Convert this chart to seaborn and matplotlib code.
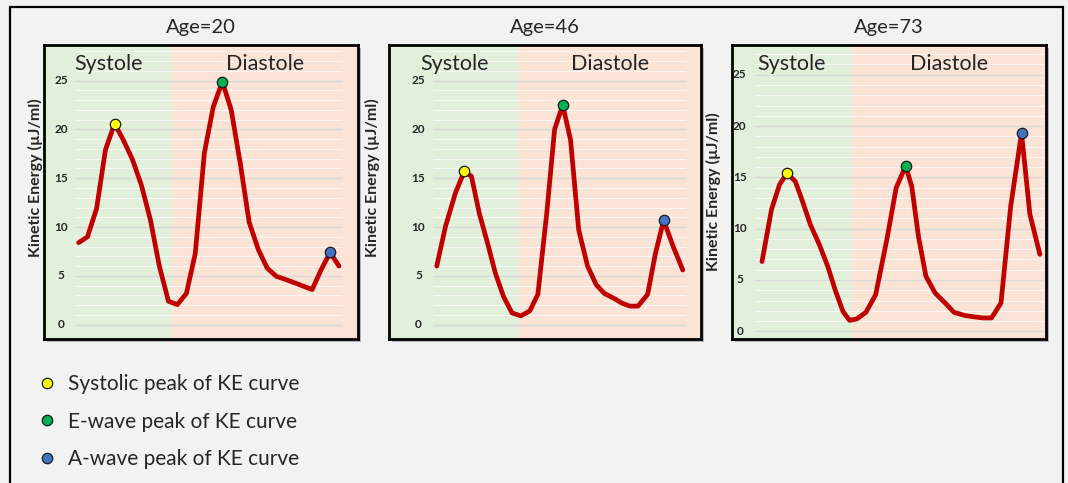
"""
Kinetic energy of LV inflow over one cardiac cycle, three ages.
Saves out.png
"""

import matplotlib.pyplot as plt
import matplotlib.patches as mpatches
from matplotlib.lines import Line2D
import seaborn as sns

sns.set_style("white")
plt.rcParams["font.family"] = ["Lato", "DejaVu Sans"]

# ── Data ──────────────────────────────────────────────────────────────────────
# time as % of the plotted cycle, KE in µJ/ml
t_20 = [0, 3.4, 6.9, 10.3, 13.8, 17.2, 20.7, 24.1, 27.6, 31.0, 34.5, 37.9, 41.4,
        44.8, 48.3, 51.7, 55.2, 58.6, 62.1, 65.5, 69.0, 72.4, 75.9, 79.3, 82.8,
        86.2, 89.7, 93.1, 96.6, 100]
ke_20 = [8.4, 9.0, 11.9, 17.9, 20.6, 18.9, 16.9, 14.3, 10.7, 6.0, 2.4, 2.05, 3.2,
         7.3, 17.6, 22.3, 24.9, 22.0, 16.5, 10.5, 7.7, 5.8, 4.95, 4.65, 4.3,
         3.95, 3.6, 5.6, 7.4, 6.0]

t_46 = [0, 3.6, 7.6, 11.2, 14.1, 17.3, 20.6, 23.8, 27.1, 30.6, 34.2, 37.8, 41.1,
        44.7, 47.9, 51.2, 54.4, 57.7, 61.3, 64.8, 68.1, 72.0, 75.3, 78.5, 81.8,
        85.7, 88.9, 92.2, 96.1, 100]
ke_46 = [6.0, 10.1, 13.5, 15.7, 15.2, 11.4, 8.4, 5.3, 2.9, 1.2, 0.9, 1.4, 3.1,
         11.4, 20.0, 22.5, 18.9, 9.7, 6.0, 4.1, 3.2, 2.7, 2.2, 1.9, 1.9,
         3.1, 7.3, 10.7, 8.0, 5.6]

t_73 = [0, 3.4, 6.3, 9.0, 12.0, 14.4, 17.4, 20.7, 23.7, 26.3, 29.1, 31.5, 34.1,
        37.4, 40.9, 44.9, 48.3, 51.7, 53.9, 56.3, 59.0, 62.3, 65.9, 69.1, 73.1,
        76.6, 79.6, 82.6, 86.0, 89.5, 93.4, 96.4, 100]
ke_73 = [6.8, 11.85, 14.3, 15.4, 14.6, 12.8, 10.4, 8.4, 6.3, 4.06, 1.95, 1.07, 1.2,
         1.85, 3.57, 8.9, 14.0, 16.1, 14.1, 9.25, 5.36, 3.73, 2.76, 1.85, 1.53,
         1.4, 1.3, 1.3, 2.76, 12.2, 19.3, 11.4, 7.5]

# index of systolic, E-wave and A-wave peak in each series
peaks_20 = [4, 16, 28]
peaks_46 = [3, 15, 27]
peaks_73 = [3, 17, 30]

y_ticks = [0, 5, 10, 15, 20, 25]
peak_labels = ["Systolic peak of KE curve", "E-wave peak of KE curve",
               "A-wave peak of KE curve"]

# ── Style ─────────────────────────────────────────────────────────────────────
BG        = "#F2F2F2"
SYS_CLR   = "#E2EFDA"
DIA_CLR   = "#FBE3D6"
LINE_CLR  = "#C00000"
PEAK_CLRS = ["#FFFF00", "#00B050", "#4472C4"]

W, H = 1068, 483


def px_rect(l, t, r, b):
    return [l / W, 1 - b / H, (r - l) / W, (b - t) / H]


panels = [
    dict(age=20, t=t_20, ke=ke_20, peaks=peaks_20, frame=(44, 45, 358, 339),
         xlim=(-13.3, 107.3), ylim=(-1.47, 28.65), sys_end=36.0,
         grid=(-1.5, 101.3), tick_x=-6.7, ylab=(-0.004, 0.548)),
    dict(age=46, t=t_46, ke=ke_46, peaks=peaks_46, frame=(389, 45, 701, 339),
         xlim=(-19.4, 107.4), ylim=(-1.47, 28.65), sys_end=33.6,
         grid=(-1.6, 101.3), tick_x=-7.4, ylab=(-0.029, 0.548)),
    dict(age=73, t=t_73, ke=ke_73, peaks=peaks_73, frame=(732, 45, 1046, 339),
         xlim=(-10.8, 102.2), ylim=(-0.75, 27.9), sys_end=32.3,
         grid=(-2.4, 101.2), tick_x=-8.0, ylab=(-0.036, 0.5)),
]

fig = plt.figure(figsize=(W / 100, H / 100), dpi=100, facecolor=BG)

for p in panels:
    l, t, r, b = p["frame"]
    # drop shadow behind the chart frame
    fig.patches.append(mpatches.Rectangle(
        ((l + 3) / W, 1 - (b + 3) / H), (r - l) / W, (b - t) / H,
        transform=fig.transFigure, color="#9A9A9A", alpha=0.7, zorder=-1, lw=0))

    ax = fig.add_axes(px_rect(l, t, r, b))
    ax.set_xlim(*p["xlim"])
    ax.set_ylim(*p["ylim"])
    ax.axvspan(p["xlim"][0], p["sys_end"], color=SYS_CLR, lw=0, zorder=0)
    ax.axvspan(p["sys_end"], p["xlim"][1], color=DIA_CLR, lw=0, zorder=0)

    # Excel-style gridlines: faint minor lines every 1, grey majors every 5
    minor = [v for v in range(0, 29) if v % 5]
    ax.hlines(minor, *p["grid"], color="white", lw=0.8, alpha=0.75, zorder=1)
    ax.hlines(y_ticks, *p["grid"], color="#D9D9D9", lw=0.9, zorder=1)
    for v in y_ticks:
        ax.text(p["tick_x"], v, str(v), ha="center", va="center",
                fontsize=8.5, fontweight="bold", color="#262626")

    sns.lineplot(x=p["t"], y=p["ke"], ax=ax, color=LINE_CLR, lw=3.4,
                 zorder=3, solid_joinstyle="round", solid_capstyle="round")
    for idx, clr in zip(p["peaks"], PEAK_CLRS):
        ax.plot(p["t"][idx], p["ke"][idx], "o", ms=7.5, mfc=clr, mec="#1a1a1a",
                mew=0.9, zorder=4)

    ax.set_xticks([])
    ax.set_yticks([])
    for s in ax.spines.values():
        s.set_linewidth(2)
        s.set_color("black")
    ax.set_ylabel("Kinetic Energy (µJ/ml)", fontsize=11.5, fontweight="bold")
    ax.yaxis.set_label_coords(*p["ylab"])

    ax.text(0.5, 1 + 17 / 294, f"Age={p['age']}", transform=ax.transAxes,
            ha="center", va="center", fontsize=14.5)
    sys_mid = (p["xlim"][0] + p["sys_end"]) / 2
    dia_mid = (p["sys_end"] + p["xlim"][1]) / 2
    ax.text(sys_mid, 0.935, "Systole", transform=ax.get_xaxis_transform(),
            ha="center", va="center", fontsize=15.5)
    ax.text(dia_mid, 0.935, "Diastole", transform=ax.get_xaxis_transform(),
            ha="center", va="center", fontsize=15.5)

# ── Legend ────────────────────────────────────────────────────────────────────
handles = [Line2D([], [], ls="", marker="o", ms=7.5, mfc=c, mec="#1a1a1a", mew=0.9)
           for c in PEAK_CLRS]
fig.legend(handles, peak_labels, loc="upper left",
           bbox_to_anchor=(36.6 / W, 1 - 374 / H), frameon=False, fontsize=15,
           labelspacing=0.85, handletextpad=0.5, handlelength=1.0, borderpad=0,
           borderaxespad=0)

# outer frame (bottom edge runs off the image)
fig.patches.append(mpatches.Rectangle(
    (10 / W, -0.05), (1063 - 10) / W, 1.05 - 7 / H, transform=fig.transFigure,
    fill=False, ec="black", lw=1.6, zorder=5))

fig.savefig("out.png", dpi=100, facecolor=BG)
